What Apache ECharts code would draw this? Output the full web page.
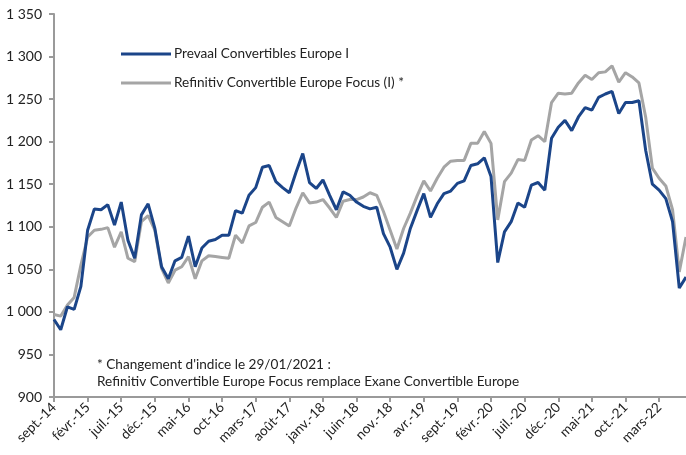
<!DOCTYPE html>
<html>
<head>
<meta charset="utf-8">
<script src="https://cdn.jsdelivr.net/npm/echarts@6/dist/echarts.min.js"></script>
<style>
html,body{margin:0;padding:0;background:#fff;}
#chart{width:686px;height:455px;}
</style>
</head>
<body>
<div id="chart"></div>
<script>
var monthNames = ['janv.', 'févr.', 'mars', 'avr.', 'mai', 'juin', 'juil.', 'août', 'sept.', 'oct.', 'nov.', 'déc.'];
var startMonth = 8; // sept.
var startYear = 14;
var pointCount = 95;

var prevaal = [
  991, 979, 1006, 1003, 1030, 1096, 1121, 1120, 1126, 1102,
  1129, 1084, 1063, 1114, 1127, 1098, 1053, 1039, 1060, 1064,
  1089, 1053, 1075, 1083, 1085, 1090, 1090, 1119, 1116, 1137,
  1146, 1170, 1172, 1153, 1146, 1140, 1164, 1186, 1152, 1145,
  1155, 1137, 1120, 1141, 1137, 1129, 1124, 1121, 1123, 1092,
  1076, 1050, 1069, 1098, 1119, 1139, 1111, 1127, 1139, 1142,
  1151, 1154, 1172, 1174, 1181, 1159, 1058, 1094, 1106, 1128,
  1123, 1149, 1152, 1143, 1204, 1217, 1225, 1213, 1229, 1240,
  1237, 1252, 1256, 1259, 1233, 1246, 1246, 1248, 1190, 1150,
  1143, 1133, 1106, 1028, 1041
];

var refinitiv = [
  997, 995, 1008, 1017, 1055, 1088, 1096, 1097, 1099, 1076,
  1094, 1063, 1059, 1106, 1113, 1096, 1051, 1034, 1049, 1053,
  1065, 1039, 1060, 1066, 1065, 1064, 1063, 1090, 1081, 1101,
  1105, 1123, 1129, 1111, 1106, 1101, 1122, 1140, 1128, 1129,
  1132, 1122, 1111, 1130, 1132, 1132, 1135, 1140, 1137, 1118,
  1096, 1074, 1098, 1116, 1136, 1154, 1142, 1157, 1170, 1177,
  1178, 1178, 1198, 1198, 1212, 1198, 1108, 1153, 1163, 1179,
  1178, 1202, 1207, 1200, 1246, 1257, 1256, 1257, 1269, 1278,
  1273, 1281, 1282, 1289, 1270, 1281, 1276, 1269, 1229, 1169,
  1157, 1148, 1120, 1047, 1088
];

var seriesNames = ['Prevaal Convertibles Europe I', 'Refinitiv Convertible Europe Focus (I) *'];
var noteLines = ["* Changement d'indice le 29/01/2021 :", 'Refinitiv Convertible Europe Focus remplace Exane Convertible Europe'];

var categories = [];
for (var i = 0; i < pointCount; i++) {
  var m = (startMonth + i) % 12;
  var y = startYear + Math.floor((startMonth + i) / 12);
  categories.push(monthNames[m] + '-' + y);
}
categories[25] = 'oct-16';

var FONT = 'Lato';
var FS = 13.6;
var TXT = '#222';
var AX = '#9a9a9a';

var chart = echarts.init(document.getElementById('chart'), null, {renderer: 'canvas'});
chart.setOption({
  animation: false,
  backgroundColor: '#fff',
  grid: {left: 54, right: 0, top: 14, bottom: 58, containLabel: false},
  legend: {
    orient: 'vertical',
    left: 116,
    top: 42,
    itemGap: 15,
    itemWidth: 50,
    itemHeight: 3,
    icon: 'rect',
    textStyle: {fontFamily: FONT, fontSize: FS, color: TXT, padding: [0, 0, 0, -2]},
    data: seriesNames
  },
  xAxis: {
    type: 'category',
    data: categories,
    boundaryGap: false,
    axisLine: {lineStyle: {color: AX, width: 2}},
    axisTick: {show: true, interval: 4, length: 5, lineStyle: {color: AX, width: 2}},
    axisLabel: {interval: 4, rotate: 45, fontFamily: FONT, fontSize: FS, color: TXT, margin: 8},
    splitLine: {show: false}
  },
  yAxis: {
    type: 'value',
    min: 900,
    max: 1350,
    interval: 50,
    axisLine: {show: true, lineStyle: {color: AX, width: 2}},
    axisTick: {show: true, length: 5, lineStyle: {color: AX, width: 2}},
    axisLabel: {
      fontFamily: FONT, fontSize: 14, color: TXT, margin: 12,
      formatter: function (v) {
        var s = String(v);
        return s.length > 3 ? s.slice(0, s.length - 3) + ' ' + s.slice(-3) : s;
      }
    },
    splitLine: {show: false}
  },
  graphic: [
    {type: 'text', left: 97, top: 358, style: {text: noteLines[0], fontFamily: FONT, fontSize: FS, fill: TXT}},
    {type: 'text', left: 97, top: 375, style: {text: noteLines[1], fontFamily: FONT, fontSize: FS, fill: TXT}}
  ],
  series: [
    {
      name: seriesNames[1], type: 'line', data: refinitiv, showSymbol: false, symbol: 'none',
      lineStyle: {color: '#a5a5a5', width: 3}, itemStyle: {color: '#a5a5a5'}, z: 2
    },
    {
      name: seriesNames[0], type: 'line', data: prevaal, showSymbol: false, symbol: 'none',
      lineStyle: {color: '#1b4589', width: 3}, itemStyle: {color: '#1b4589'}, z: 3
    }
  ]
});
</script>
</body>
</html>
